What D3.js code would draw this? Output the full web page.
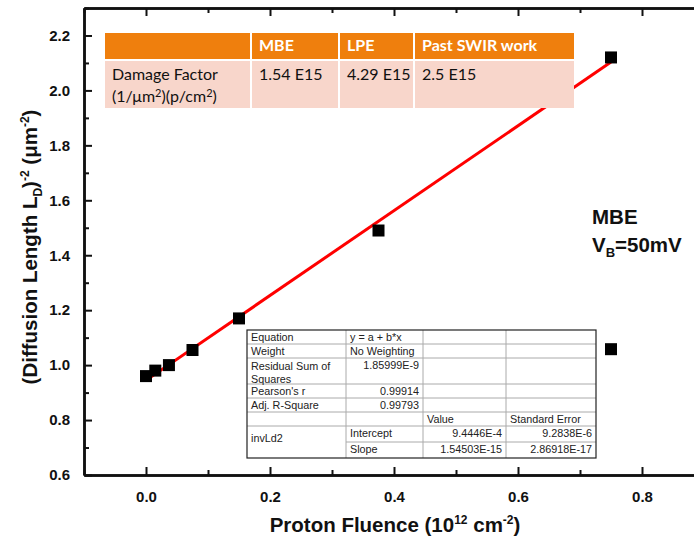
<!DOCTYPE html>
<html>
<head>
<meta charset="utf-8">
<title>Damage factor fit</title>
<style>
  body { margin: 0; background: #fff; }
  svg { display: block; font-family: "Liberation Sans", Arial, sans-serif; }
  .tick text { font-size: 15px; font-weight: bold; fill: #111; }
  .axis path, .axis line { stroke: #111; }
</style>
</head>
<body>
<svg id="chart" width="694" height="541"></svg>
<script src="https://cdn.jsdelivr.net/npm/d3@7"></script>
<script>
// data
const fluence = [0, 0.015, 0.037, 0.075, 0.15, 0.375, 0.75, 0.75];
const invLd2 = [0.96, 0.98, 1.0, 1.055, 1.17, 1.49, 2.12, 1.058];
const fitIntercept = 0.94446;
const fitSlope = 1.54503;
const fitRange = [0, 0.75];

const xTicks = [0, 0.2, 0.4, 0.6, 0.8];
const yTicks = [0.6, 0.8, 1.0, 1.2, 1.4, 1.6, 1.8, 2.0, 2.2];

// damage factor table
const dfHeader = ["", "MBE", "LPE", "Past SWIR work"];
const dfRow = ["Damage Factor", "1.54 E15", "4.29 E15", "2.5 E15"];

// fit report table
const fitRows = [
  ["Equation", "y = a + b*x", "", ""],
  ["Weight", "No Weighting", "", ""],
  ["Residual Sum of\nSquares", "1.85999E-9", "", ""],
  ["Pearson's r", "0.99914", "", ""],
  ["Adj. R-Square", "0.99793", "", ""],
  ["", "", "Value", "Standard Error"],
  ["invLd2", "Intercept", "9.4446E-4", "9.2838E-6"],
  ["", "Slope", "1.54503E-15", "2.86918E-17"]
];

const margin = { top: 8, left: 84 };
const width = 620, height = 467;

const svg = d3.select("#chart");
const g = svg.append("g").attr("transform", `translate(${margin.left},${margin.top})`);

const x = d3.scaleLinear().domain([-0.1, 0.9]).range([0, width]);
const y = d3.scaleLinear().domain([0.6, 2.3]).range([height, 0]);

// axes, ticks pointing inward
const minorX = d3.range(-0.1, 0.91, 0.1).map(v => +v.toFixed(2)).filter(v => !xTicks.includes(v));
const minorY = d3.range(0.7, 2.31, 0.2).map(v => +v.toFixed(2));

function drawAxis(axis, tr) {
  const a = g.append("g").attr("class", "axis").attr("transform", tr).call(axis);
  a.select(".domain").attr("stroke-width", 2.5);
  a.selectAll(".tick line").attr("stroke-width", 2);
  return a;
}

drawAxis(d3.axisBottom(x).tickValues(xTicks).tickSizeInner(-8).tickSizeOuter(0)
  .tickPadding(16).tickFormat(d3.format(".1f")), `translate(0,${height})`);
drawAxis(d3.axisBottom(x).tickValues(minorX).tickSizeInner(-5).tickSizeOuter(0).tickFormat(""), `translate(0,${height})`);
drawAxis(d3.axisTop(x).tickValues(xTicks).tickSizeInner(-8).tickSizeOuter(0).tickFormat(""), "translate(0,0)");
drawAxis(d3.axisTop(x).tickValues(minorX).tickSizeInner(-5).tickSizeOuter(0).tickFormat(""), "translate(0,0)");
drawAxis(d3.axisLeft(y).tickValues(yTicks).tickSizeInner(-8).tickSizeOuter(0)
  .tickPadding(14).tickFormat(d3.format(".1f")), "translate(0,0)");
drawAxis(d3.axisLeft(y).tickValues(minorY).tickSizeInner(-5).tickSizeOuter(0).tickFormat(""), "translate(0,0)");
drawAxis(d3.axisRight(y).tickValues(yTicks).tickSizeInner(-8).tickSizeOuter(0).tickFormat(""), `translate(${width},0)`);

// fit line
g.append("line")
  .attr("x1", x(fitRange[0])).attr("y1", y(fitIntercept + fitSlope * fitRange[0]))
  .attr("x2", x(fitRange[1])).attr("y2", y(fitIntercept + fitSlope * fitRange[1]))
  .attr("stroke", "#f00").attr("stroke-width", 3);

// markers
const ms = 12;
g.selectAll(".pt").data(fluence.map((f, i) => [f, invLd2[i]])).join("rect")
  .attr("class", "pt")
  .attr("x", d => x(d[0]) - ms / 2).attr("y", d => y(d[1]) - ms / 2)
  .attr("width", ms).attr("height", ms).attr("fill", "#000");

// axis titles
svg.append("text").attr("x", 395).attr("y", 532).attr("text-anchor", "middle")
  .attr("font-size", 20.5).attr("font-weight", "bold").attr("fill", "#111")
  .html('Proton Fluence (10<tspan dy="-8" font-size="12">12</tspan><tspan dy="8"> cm</tspan><tspan dy="-8" font-size="12">-2</tspan><tspan dy="8">)</tspan>');

svg.append("text").attr("transform", "translate(37,247) rotate(-90)").attr("text-anchor", "middle")
  .attr("font-size", 20.5).attr("font-weight", "bold").attr("fill", "#111")
  .html('(Diffusion Length L<tspan dy="5" font-size="12">D</tspan><tspan dy="-5">)</tspan><tspan dy="-8" font-size="12">-2</tspan><tspan dy="8"> (μm</tspan><tspan dy="-8" font-size="12">-2</tspan><tspan dy="8">)</tspan>');

// annotation
svg.append("text").attr("x", 592).attr("y", 224).attr("font-size", 20.5)
  .attr("font-weight", "bold").attr("fill", "#111").text("MBE");
svg.append("text").attr("x", 592).attr("y", 252).attr("font-size", 20.5)
  .attr("font-weight", "bold").attr("fill", "#111")
  .html('V<tspan dy="5" font-size="13">B</tspan><tspan dy="-5">=50mV</tspan>');

// damage factor table
const dfCols = [105, 252, 340, 415, 574];
const dfFont = "Lato, 'Open Sans', sans-serif";
const dfT = svg.append("g");
dfHeader.forEach((h, i) => {
  dfT.append("rect").attr("x", dfCols[i]).attr("y", 33)
    .attr("width", dfCols[i + 1] - dfCols[i] - (i < 3 ? 2 : 0)).attr("height", 26).attr("fill", "#ef7f0d");
  dfT.append("rect").attr("x", dfCols[i]).attr("y", 61)
    .attr("width", dfCols[i + 1] - dfCols[i] - (i < 3 ? 2 : 0)).attr("height", 47).attr("fill", "#f8d6cb");
  dfT.append("text").attr("x", dfCols[i] + 7).attr("y", 51).attr("font-family", dfFont)
    .attr("font-size", 16).attr("font-weight", "bold").attr("fill", "#fff").text(h);
  dfT.append("text").attr("x", dfCols[i] + 7).attr("y", 80).attr("font-family", dfFont)
    .attr("font-size", 16).attr("fill", "#111").text(dfRow[i]);
});
dfT.append("text").attr("x", dfCols[0] + 7).attr("y", 102).attr("font-family", dfFont)
  .attr("font-size", 16).attr("fill", "#111")
  .html('(1/μm<tspan dy="-5" font-size="11">2</tspan><tspan dy="5">)(p/cm</tspan><tspan dy="-5" font-size="11">2</tspan><tspan dy="5">)</tspan>');

// fit report table
const fCols = [247, 346, 423, 506, 596];
const fRowsY = [330, 344, 358, 384, 398, 412, 426, 442, 458];
const fT = svg.append("g").attr("font-size", 10.8).attr("fill", "#222");
fT.append("rect").attr("x", fCols[0]).attr("y", fRowsY[0])
  .attr("width", fCols[4] - fCols[0]).attr("height", fRowsY[8] - fRowsY[0]).attr("fill", "#fff");
// horizontal lines
fRowsY.slice(1, 8).forEach((yy, r) => {
  const x0 = r === 6 ? fCols[1] : fCols[0];
  fT.append("line").attr("x1", x0).attr("x2", fCols[4]).attr("y1", yy).attr("y2", yy)
    .attr("stroke", "#aaa").attr("stroke-width", 1);
});
fCols.slice(1, 4).forEach(xx => {
  fT.append("line").attr("x1", xx).attr("x2", xx).attr("y1", fRowsY[0]).attr("y2", fRowsY[8])
    .attr("stroke", "#aaa").attr("stroke-width", 1);
});
fT.append("rect").attr("x", fCols[0]).attr("y", fRowsY[0])
  .attr("width", fCols[4] - fCols[0]).attr("height", fRowsY[8] - fRowsY[0])
  .attr("fill", "none").attr("stroke", "#222").attr("stroke-width", 1.2);

fitRows.forEach((row, r) => {
  row.forEach((cell, c) => {
    if (!cell) return;
    const right = (c === 1 && r >= 2 && r <= 4) || (c >= 2 && r >= 6);
    let ty = fRowsY[r] + 11;
    if (r === 6 && c === 0) ty = fRowsY[6] + 16;
    const lines = cell.split("\n");
    lines.forEach((ln, k) => {
      fT.append("text")
        .attr("x", right ? fCols[c + 1] - 4 : fCols[c] + 4)
        .attr("y", ty + k * 13 + (r === 2 && c === 0 ? 1 : 0))
        .attr("text-anchor", right ? "end" : "start")
        .text(ln);
    });
  });
});
</script>
</body>
</html>
